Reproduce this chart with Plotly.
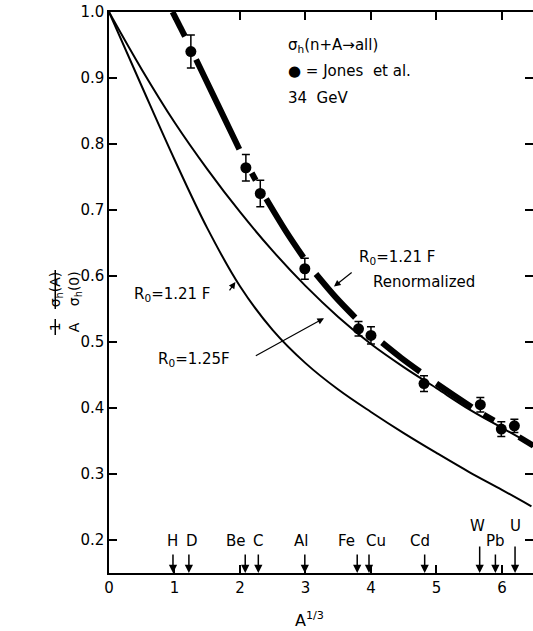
import plotly.graph_objects as go

# ---------------- data ----------------
curve_x = [0, 0.5, 1.0, 1.5, 2.0, 2.5, 3.0, 3.5, 4.0, 4.5, 5.0, 5.5, 6.0, 6.45]
r121_y = [1.0, 0.8875, 0.7765, 0.6725, 0.5845, 0.518, 0.468, 0.428, 0.394, 0.362, 0.332, 0.303, 0.276, 0.251]
r125_y = [1.0, 0.913, 0.833, 0.762, 0.697, 0.638, 0.585, 0.538, 0.497, 0.462, 0.43, 0.398, 0.37, 0.345]

# renormalized curve: thick broken line (None = gap in the drawn line, around the data points)
renorm_x = [0.97, 1.16, None, 1.33, 1.66, 1.99, None, 2.18, 2.24, None, 2.40, 2.70, 2.97, None,
            3.16, 3.46, 3.76, None, 4.17, 4.46, 4.75, None, 5.00, 5.27, 5.54, None, 5.72, 5.88, None,
            6.26, 6.48]
renorm_y = [1.0, 0.963, None, 0.928, 0.860, 0.792, None, 0.756, 0.745, None, 0.717, 0.668, 0.628, None,
            0.603, 0.568, 0.537, None, 0.499, 0.476, 0.455, None, 0.437, 0.419, 0.401, None, 0.390, 0.381, None,
            0.356, 0.343]

jones_x = [1.25, 2.09, 2.31, 2.99, 3.81, 4.00, 4.81, 5.67, 5.99, 6.19]
jones_y = [0.940, 0.764, 0.725, 0.611, 0.520, 0.510, 0.437, 0.405, 0.368, 0.373]
jones_err = [0.025, 0.02, 0.02, 0.016, 0.011, 0.013, 0.012, 0.011, 0.011, 0.01]

element_names = ["H", "D", "Be", "C", "Al", "Fe", "Cu", "Cd", "W", "Pb", "U"]
element_x = [0.977, 1.22, 2.08, 2.28, 2.99, 3.79, 3.97, 4.82, 5.66, 5.90, 6.20]

x_ticks = [0, 1, 2, 3, 4, 5, 6]
y_ticks = [0.2, 0.3, 0.4, 0.5, 0.6, 0.7, 0.8, 0.9, 1.0]
y_tick_labels = ["0.2", "0.3", "0.4", "0.5", "0.6", "0.7", "0.8", "0.9", "1.0"]

# ---------------- figure ----------------
FONT = "DejaVu Sans"
W, H = 535, 631          # 2px wider than the window: right frame line falls just outside, as in the original
ML, MR, MT, MB = 109, 0, 12, 58
PW, PH = W - ML - MR, H - MT - MB
XPU = 65.8  # pixels per unit along x


def px(xp):
    return (xp - ML) / PW


def py(yp):
    return (H - MB - yp) / PH


fig = go.Figure()

fig.add_trace(go.Scatter(x=curve_x, y=r121_y, mode="lines", line=dict(color="black", width=2, shape="spline"),
                         showlegend=False, hoverinfo="skip"))
fig.add_trace(go.Scatter(x=curve_x, y=r125_y, mode="lines", line=dict(color="black", width=2, shape="spline"),
                         showlegend=False, hoverinfo="skip"))
fig.add_trace(go.Scatter(x=renorm_x, y=renorm_y, mode="lines", connectgaps=False,
                         line=dict(color="black", width=6, shape="spline"),
                         showlegend=False, hoverinfo="skip"))
fig.add_trace(go.Scatter(x=jones_x, y=jones_y, mode="markers",
                         marker=dict(color="black", size=11, symbol="circle"),
                         error_y=dict(type="data", array=jones_err, visible=True, color="black",
                                      thickness=1.5, width=4),
                         showlegend=False, hoverinfo="skip"))

ann = []
tf = dict(family=FONT, size=15, color="black")

# element arrows and labels
label_shift = {"D": 3, "Be": -9, "Al": -4, "Fe": -11, "Cu": 7, "Cd": -5, "W": -2}
for name, xv in zip(element_names, element_x):
    high = name in ("W", "U")
    ann.append(dict(x=xv, y=0.15, xref="x", yref="y", text="", showarrow=True,
                    ax=0, ay=-28 if high else -20, axref="pixel", ayref="pixel",
                    arrowhead=2, arrowsize=1.1, arrowwidth=1.5, arrowcolor="black", standoff=0))
    ann.append(dict(x=xv, y=0.221 if high else 0.199, xref="x", yref="y", text=name, showarrow=False,
                    xshift=label_shift.get(name, 0), xanchor="center", yanchor="middle", font=tf))

# legend-like text
ann.append(dict(x=2.70, y=0.949, xref="x", yref="y", xanchor="left", yanchor="middle", showarrow=False,
                text="σ<sub>h</sub>(n+A→all)", font=tf))
ann.append(dict(x=2.70, y=0.910, xref="x", yref="y", xanchor="left", yanchor="middle", showarrow=False,
                text="● = Jones  et al.", font=tf))
ann.append(dict(x=2.70, y=0.870, xref="x", yref="y", xanchor="left", yanchor="middle", showarrow=False,
                text="34  GeV", font=tf))

# curve labels
ann.append(dict(x=3.78, y=0.628, xref="x", yref="y", xanchor="left", yanchor="middle", showarrow=False,
                text="R<sub>0</sub>=1.21 F", font=tf))
ann.append(dict(x=4.0, y=0.591, xref="x", yref="y", xanchor="left", yanchor="middle", showarrow=False,
                text="Renormalized", font=tf))
ann.append(dict(x=0.345, y=0.572, xref="x", yref="y", xanchor="left", yanchor="middle", showarrow=False,
                text="R<sub>0</sub>=1.21 F", font=tf))
ann.append(dict(x=0.725, y=0.473, xref="x", yref="y", xanchor="left", yanchor="middle", showarrow=False,
                text="R<sub>0</sub>=1.25F", font=tf))

# pointer arrows
for hx, hy, tx, ty in [(3.435, 0.584, 3.728, 0.607), (1.93, 0.591, 1.824, 0.576), (3.283, 0.536, 2.219, 0.478)]:
    ann.append(dict(x=hx, y=hy, xref="x", yref="y", ax=tx, ay=ty, axref="x", ayref="y", text="",
                    showarrow=True, arrowhead=2, arrowsize=1.1, arrowwidth=1.2, arrowcolor="black"))

# axis title x
ann.append(dict(x=px(310), y=py(619), xref="paper", yref="paper", showarrow=False,
                text="A<sup>1/3</sup>", yanchor="middle", font=dict(family=FONT, size=16, color="black")))

# y label (rotated fractions)
yl = dict(family=FONT, size=14, color="black")
ann.append(dict(x=px(45), y=py(327), xref="paper", yref="paper", showarrow=False, textangle=-90,
                text="1", font=yl))
ann.append(dict(x=px(64), y=py(327), xref="paper", yref="paper", showarrow=False, textangle=-90,
                text="A", font=yl))
ann.append(dict(x=px(45), y=py(289), xref="paper", yref="paper", showarrow=False, textangle=-90,
                text="σ<sub>h</sub>(A)", font=yl))
ann.append(dict(x=px(64), y=py(289), xref="paper", yref="paper", showarrow=False, textangle=-90,
                text="σ<sub>h</sub>(0)", font=yl))

shapes = [
    dict(type="line", xref="paper", yref="paper", x0=px(55), x1=px(55), y0=py(319), y1=py(335),
         line=dict(color="black", width=1.5)),
    dict(type="line", xref="paper", yref="paper", x0=px(55), x1=px(55), y0=py(270), y1=py(309),
         line=dict(color="black", width=1.5)),
]

axis_common = dict(showline=True, linecolor="black", linewidth=1.5, mirror="ticks", ticks="inside",
                   tickcolor="black", tickwidth=1.5, showgrid=False, zeroline=False,
                   tickfont=dict(family=FONT, size=15, color="black"))

fig.update_layout(
    width=W, height=H,
    margin=dict(l=ML, r=MR, t=MT, b=MB),
    paper_bgcolor="white", plot_bgcolor="white",
    xaxis=dict(range=[0, PW / XPU], tickvals=x_ticks, ticklen=8, **axis_common),
    yaxis=dict(range=[0.15, 1.0], tickvals=y_ticks, ticktext=y_tick_labels, ticklen=8, **axis_common),
    annotations=ann, shapes=shapes, showlegend=False,
)

fig.write_html("out.html", config={"displayModeBar": False},
               post_script="document.body.style.margin='0';document.body.style.overflow='hidden';")
